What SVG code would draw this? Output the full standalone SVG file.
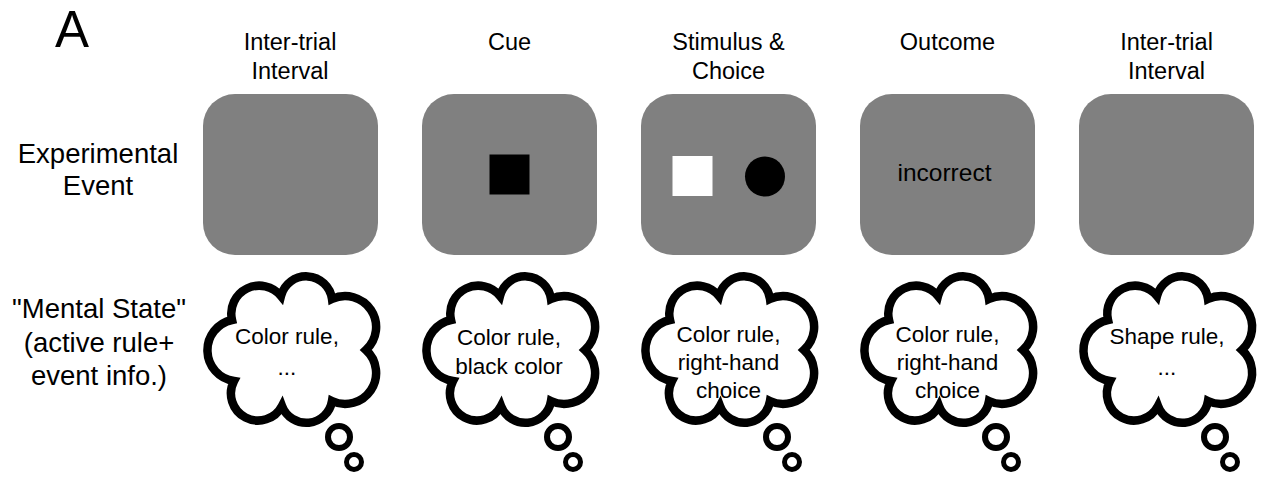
<svg xmlns="http://www.w3.org/2000/svg" xmlns:xlink="http://www.w3.org/1999/xlink" width="1262" height="478" viewBox="0 0 1262 478">
<style>
text{font-family:"Liberation Sans",Arial,sans-serif;fill:#000;text-anchor:middle}
.lbl{font-size:27.5px}
.ttl{font-size:23.5px}
.ct{font-size:22.5px}
.scr{fill:#808080}
.cl{fill:#fff;stroke:#000;stroke-width:8.5}
.b1{fill:none;stroke:#000;stroke-width:6}
.b2{fill:none;stroke:#000;stroke-width:5}
</style>
<defs>
<path id="cloud" d="M -59,-30 A 28 28 0 0 1 -10,-54 A 26 26 0 0 1 41,-51 A 31 31 0 0 1 75,0 A 31 31 0 0 1 41,51 A 26 26 0 0 1 -9,56 A 27 27 0 0 1 -57,31 A 31 31 0 0 1 -59,-30 Z"/>
<g id="thought">
<use xlink:href="#cloud" class="cl"/>
<circle class="b1" cx="48" cy="87" r="11"/>
<circle class="b2" cx="63" cy="112" r="7.5"/>
</g>
</defs>
<rect width="1262" height="478" fill="#fff"/>
<text x="72" y="47" style="font-size:51px">A</text>
<g id="row-labels">
<text class="lbl" x="98" y="163">Experimental</text>
<text class="lbl" x="98" y="195">Event</text>
<text class="lbl" x="99" y="318">"Mental State"</text>
<text class="lbl" x="99" y="352">(active rule+</text>
<text class="lbl" x="99" y="385">event info.)</text>
</g>
<g id="col1">
<text class="ttl" x="290" y="50">Inter-trial</text>
<text class="ttl" x="290" y="79">Interval</text>
<rect class="scr" x="203" y="94" width="175" height="161" rx="32"/>
<use xlink:href="#thought" x="291" y="350"/>
<text class="ct" x="287" y="344">Color rule,</text>
<text class="ct" x="287" y="375">...</text>
</g>
<g id="col2">
<text class="ttl" x="509.5" y="50">Cue</text>
<rect class="scr" x="422" y="94" width="175" height="161" rx="32"/>
<rect x="489.5" y="154.5" width="40" height="40" fill="#000"/>
<use xlink:href="#thought" x="510" y="350"/>
<text class="ct" x="509" y="345">Color rule,</text>
<text class="ct" x="509" y="374">black color</text>
</g>
<g id="col3">
<text class="ttl" x="728.5" y="50">Stimulus &amp;</text>
<text class="ttl" x="728.5" y="79">Choice</text>
<rect class="scr" x="641" y="94" width="175" height="161" rx="32"/>
<rect x="672.5" y="156" width="40" height="40" fill="#fff"/>
<circle cx="765" cy="176.5" r="20" fill="#000"/>
<use xlink:href="#thought" x="729" y="350"/>
<text class="ct" x="728.5" y="342">Color rule,</text>
<text class="ct" x="728.5" y="370">right-hand</text>
<text class="ct" x="728.5" y="398">choice</text>
</g>
<g id="col4">
<text class="ttl" x="947.5" y="50">Outcome</text>
<rect class="scr" x="860" y="94" width="175" height="161" rx="32"/>
<text x="944.5" y="181" style="font-size:24.5px">incorrect</text>
<use xlink:href="#thought" x="948" y="350"/>
<text class="ct" x="947.5" y="342">Color rule,</text>
<text class="ct" x="947.5" y="370">right-hand</text>
<text class="ct" x="947.5" y="398">choice</text>
</g>
<g id="col5">
<text class="ttl" x="1166.5" y="50">Inter-trial</text>
<text class="ttl" x="1166.5" y="79">Interval</text>
<rect class="scr" x="1079" y="94" width="175" height="161" rx="32"/>
<use xlink:href="#thought" x="1167" y="350"/>
<text class="ct" x="1167" y="344">Shape rule,</text>
<text class="ct" x="1167" y="375">...</text>
</g>
<g id="connectors"/>
</svg>
